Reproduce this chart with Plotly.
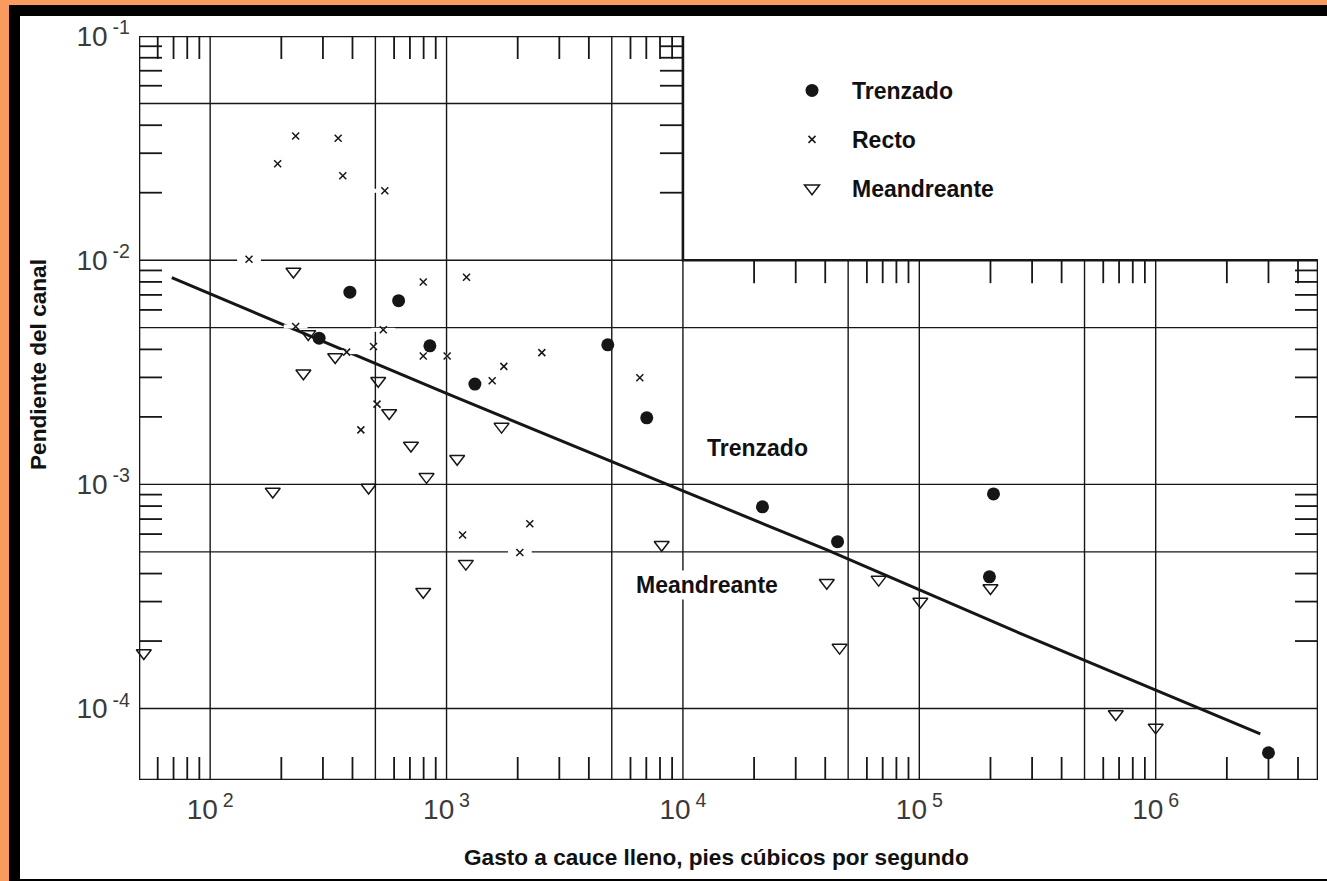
import numpy as np
import plotly.graph_objects as go

# ---------------- data ----------------
# Trenzado (braided) channels: bankfull discharge (cfs) and slope
trenzado_q = [390, 627, 289, 850, 1318, 4810, 7030, 21700, 45100, 206000, 198000, 3.0e6]
trenzado_s = [7.2e-3, 6.6e-3, 4.49e-3, 4.15e-3, 2.80e-3, 4.19e-3, 1.98e-3, 7.94e-4,
              5.55e-4, 9.06e-4, 3.87e-4, 6.35e-5]

# Recto (straight) channels
recto_q = [230, 348, 193, 364, 548, 146, 797, 1215, 230, 540, 378, 491, 797, 1006,
           2530, 1747, 1560, 508, 434, 2250, 1169, 2042, 6570]
recto_s = [3.58e-2, 3.50e-2, 2.69e-2, 2.38e-2, 2.04e-2, 1.01e-2, 8.0e-3, 8.39e-3,
           5.06e-3, 4.89e-3, 3.89e-3, 4.12e-3, 3.74e-3, 3.74e-3, 3.87e-3, 3.36e-3,
           2.90e-3, 2.28e-3, 1.75e-3, 6.67e-4, 5.94e-4, 4.97e-4, 2.99e-3]

# Meandreante (meandering) channels
meandro_q = [225, 260, 338, 248, 514, 572, 1709, 707, 1109, 823, 184, 468, 1207, 797,
             52.4, 8130, 40600, 46000, 67300, 101000, 200000, 678000, 1.0e6]
meandro_s = [8.9e-3, 4.69e-3, 3.70e-3, 3.13e-3, 2.90e-3, 2.08e-3, 1.81e-3, 1.49e-3,
             1.30e-3, 1.08e-3, 9.29e-4, 9.68e-4, 4.43e-4, 3.32e-4, 1.77e-4, 5.38e-4,
             3.64e-4, 1.87e-4, 3.76e-4, 3.0e-4, 3.45e-4, 9.46e-5, 8.24e-5]

# Dividing line between braided and meandering
line_q = [68.8, 213, 993, 10180, 40450, 265500, 2.77e6]
line_s = [8.36e-3, 5.06e-3, 2.55e-3, 9.29e-4, 5.11e-4, 2.17e-4, 7.71e-5]

# axis / frame structure
X_RANGE = [50, 4.86e6]
Y_RANGE = [4.8e-5, 0.1]
BOX_SPLIT_X = 1e4          # upper box ends here
BOX_SPLIT_Y = 0.01         # right part tops out here
GRID_X_TALL = [100, 500, 1000, 5000, 10000]
GRID_X_SHORT = [5e4, 1e5, 5e5, 1e6]
GRID_Y_UPPER = [0.05]
GRID_Y_FULL = [0.01, 5e-3, 1e-3, 5e-4, 1e-4]
MINOR_M = [2, 3, 4, 6, 7, 8, 9]
Y_MINOR_FLOOR = 1e-4

SP = "\u2005"
x_tickvals = [1e2, 1e3, 1e4, 1e5, 1e6]
x_ticktext = [f"10<sup>{SP}2</sup>", f"10<sup>{SP}3</sup>", f"10<sup>{SP}4</sup>",
              f"10<sup>{SP}5</sup>", f"10<sup>{SP}6</sup>"]
y_tickvals = [1e-4, 1e-3, 1e-2, 1e-1]
y_ticktext = [f"10<sup>{SP}-4</sup>", f"10<sup>{SP}-3</sup>", f"10<sup>{SP}-2</sup>",
              f"10<sup>{SP}-1</sup>"]

# ---------------- geometry ----------------
W, H = 1327, 881
ML, MR, MT, MB = 139, 9, 36, 101
PW, PH = W - ML - MR, H - MT - MB
TICK_PX = 23
FONT = "Liberation Sans, Arial, Helvetica, sans-serif"
INK = "#161616"
TXT = "#111111"

xl0, xl1 = np.log10(X_RANGE)
yl0, yl1 = np.log10(Y_RANGE)
tdx = 10 ** (TICK_PX * (xl1 - xl0) / PW)   # multiplicative tick length along x
tdy = 10 ** (TICK_PX * (yl1 - yl0) / PH)   # multiplicative tick length along y
XMIN, XMAX = X_RANGE
YMIN, YTOP = Y_RANGE


def segs(pairs):
    xs, ys = [], []
    for (xa, ya, xb, yb) in pairs:
        xs += [xa, xb, None]
        ys += [ya, yb, None]
    return xs, ys


x_minor = [m * 10 ** k for k in range(1, 8) for m in MINOR_M
           if XMIN < m * 10 ** k < XMAX]
y_minor = [m * 10.0 ** k for k in range(-5, 0) for m in MINOR_M
           if Y_MINOR_FLOOR < m * 10.0 ** k < YTOP]

grid = []
for gx in GRID_X_TALL:
    grid.append((gx, YMIN, gx, YTOP))
for gx in GRID_X_SHORT:
    grid.append((gx, YMIN, gx, BOX_SPLIT_Y))
for gy in GRID_Y_UPPER:
    grid.append((XMIN, gy, BOX_SPLIT_X, gy))
for gy in GRID_Y_FULL:
    grid.append((XMIN, gy, XMAX, gy))

ticks = []
for v in x_minor:
    ticks.append((v, YMIN, v, YMIN * tdy))
    if v < BOX_SPLIT_X:
        ticks.append((v, YTOP, v, YTOP / tdy))
    else:
        ticks.append((v, BOX_SPLIT_Y, v, BOX_SPLIT_Y / tdy))
for v in y_minor:
    ticks.append((XMIN, v, XMIN * tdx, v))
    if v > BOX_SPLIT_Y:
        ticks.append((BOX_SPLIT_X, v, BOX_SPLIT_X / tdx, v))
    else:
        ticks.append((XMAX, v, XMAX / tdx, v))

frame_x = [XMIN, XMIN, BOX_SPLIT_X, BOX_SPLIT_X, XMAX, XMAX, XMIN]
frame_y = [YMIN, YTOP, YTOP, BOX_SPLIT_Y, BOX_SPLIT_Y, YMIN, YMIN]

fig = go.Figure()
gx_, gy_ = segs(grid)
fig.add_trace(go.Scatter(x=gx_, y=gy_, mode="lines", line=dict(color=INK, width=1.4),
                         hoverinfo="skip", showlegend=False))
tx_, ty_ = segs(ticks)
fig.add_trace(go.Scatter(x=tx_, y=ty_, mode="lines", line=dict(color=INK, width=1.8),
                         hoverinfo="skip", showlegend=False))
fig.add_trace(go.Scatter(x=frame_x, y=frame_y, mode="lines", line=dict(color=INK, width=2.6),
                         hoverinfo="skip", showlegend=False))

fig.add_trace(go.Scatter(x=line_q, y=line_s, mode="lines", line=dict(color=INK, width=3),
                         hoverinfo="skip", showlegend=False))

# white-out halo behind the small crosses (the scanned original breaks lines there)
fig.add_trace(go.Scatter(x=recto_q, y=recto_s, mode="markers", hoverinfo="skip",
                         showlegend=False, cliponaxis=False,
                         marker=dict(symbol="line-ew", size=17,
                                     line=dict(color="white", width=4))))

fig.add_trace(go.Scatter(x=trenzado_q, y=trenzado_s, mode="markers", name="Trenzado",
                         legendgroup="a", cliponaxis=False,
                         marker=dict(symbol="circle", size=13, color=INK)))
fig.add_trace(go.Scatter(x=recto_q, y=recto_s, mode="markers", name="Recto",
                         legendgroup="b", cliponaxis=False,
                         marker=dict(symbol="x-thin", size=7, color=INK,
                                     line=dict(color=INK, width=1.5))))
fig.add_trace(go.Scatter(x=meandro_q, y=meandro_s, mode="markers", name="Meandreante",
                         legendgroup="c", cliponaxis=False,
                         marker=dict(symbol="triangle-down-open", size=13, color=INK,
                                     line=dict(color=INK, width=1.5))))


def pxx(px):
    return (px - ML) / PW


def pxy(py):
    return (H - MB - py) / PH


shapes = [
    dict(type="rect", xref="paper", yref="paper", x0=pxx(9), x1=pxx(1400), y0=pxy(5), y1=pxy(960),
         fillcolor="black", line=dict(width=0), layer="below"),
    dict(type="rect", xref="paper", yref="paper", x0=pxx(20), x1=pxx(1400), y0=pxy(16), y1=pxy(879),
         fillcolor="white", line=dict(width=0), layer="below"),
]

annotations = [
    dict(text="Trenzado", x=np.log10(2.07e4), y=np.log10(1.46e-3), xref="x", yref="y",
         xanchor="center", yanchor="middle", showarrow=False,
         font=dict(family=FONT, size=23, color=TXT, weight="bold"), bgcolor="white"),
    dict(text="Meandreante", x=np.log10(1.26e4), y=np.log10(3.56e-4), xref="x", yref="y",
         xanchor="center", yanchor="middle", showarrow=False,
         font=dict(family=FONT, size=23, color=TXT, weight="bold"), bgcolor="white"),
    dict(text="Gasto a cauce lleno, pies cúbicos por segundo", x=pxx(716), y=pxy(858),
         xref="paper", yref="paper", xanchor="center", yanchor="middle", showarrow=False,
         font=dict(family=FONT, size=22.6, color=TXT, weight="bold")),
    dict(text="Pendiente del canal", x=pxx(38), y=pxy(365), textangle=-90,
         xref="paper", yref="paper", xanchor="center", yanchor="middle", showarrow=False,
         font=dict(family=FONT, size=22.6, color=TXT, weight="bold")),
]

fig.update_layout(
    width=W, height=H, autosize=False,
    margin=dict(l=ML, r=MR, t=MT, b=MB, pad=0),
    paper_bgcolor="#F99A5F", plot_bgcolor="white",
    shapes=shapes, annotations=annotations,
    showlegend=True,
    legend=dict(x=pxx(772), y=pxy(69), xanchor="left", yanchor="top",
                bgcolor="rgba(0,0,0,0)", traceorder="grouped", tracegroupgap=16,
                itemwidth=70,
                font=dict(family=FONT, size=23, color=TXT, weight="bold")),
    xaxis=dict(type="log", range=[xl0, xl1], showgrid=False, zeroline=False, showline=False,
               ticks="", tickmode="array", tickvals=x_tickvals, ticktext=x_ticktext,
               ticklabelstandoff=10,
               tickfont=dict(family=FONT, size=28, color="#3a3a3a")),
    yaxis=dict(type="log", range=[yl0, yl1], showgrid=False, zeroline=False, showline=False,
               ticks="", tickmode="array", tickvals=y_tickvals, ticktext=y_ticktext,
               ticklabelstandoff=8,
               tickfont=dict(family=FONT, size=28, color="#3a3a3a")),
)

fig.write_html("out.html", config={"displayModeBar": False})
